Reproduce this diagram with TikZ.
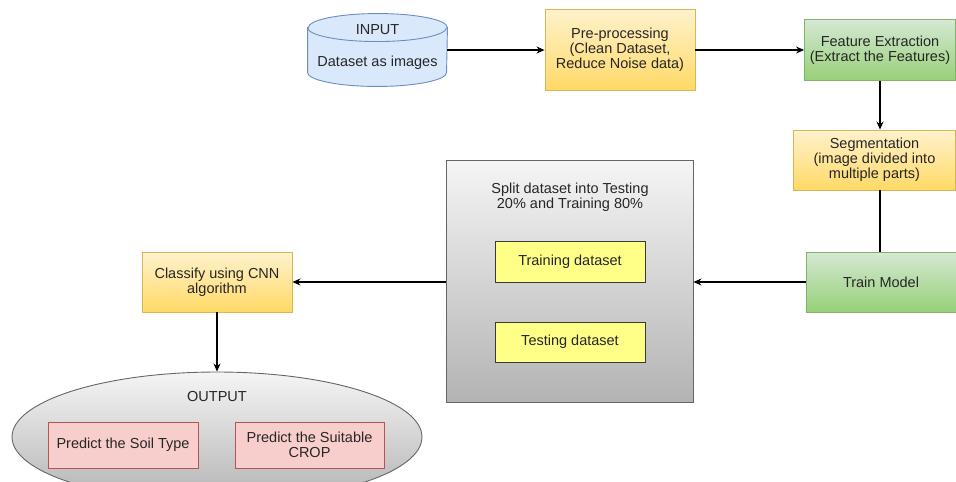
\documentclass[tikz,border=0pt]{standalone}
\usepackage{fontspec}
\setmainfont{Liberation Sans}
\usepackage{tikz}
\usetikzlibrary{arrows.meta,calc,positioning,shapes.geometric}

\definecolor{orangefill}{HTML}{FFF2CC}
\definecolor{orangegrad}{HTML}{FFD966}
\definecolor{orangeline}{HTML}{D6B656}
\definecolor{greenfill}{HTML}{D5E8D4}
\definecolor{greengrad}{HTML}{97D077}
\definecolor{greenline}{HTML}{82B366}
\definecolor{grayfill}{HTML}{F5F5F5}
\definecolor{graygrad}{HTML}{B3B3B3}
\definecolor{grayline}{HTML}{666666}
\definecolor{yellowfill}{HTML}{FFFF88}
\definecolor{yellowline}{HTML}{36393D}
\definecolor{pinkfill}{HTML}{F8CECC}
\definecolor{pinkline}{HTML}{B85450}
\definecolor{bluefill}{HTML}{DAE8FC}
\definecolor{blueline}{HTML}{6C8EBF}
\definecolor{txt}{HTML}{262626}

\begin{document}
\begin{tikzpicture}[x=1pt,y=1pt,
    every node/.style={font=\fontsize{14.5}{15}\selectfont,text=txt,align=center},
    box/.style={rectangle,inner sep=0pt,line width=0.9pt},
    orangebox/.style={box,draw=orangeline,top color=orangefill,bottom color=orangegrad},
    greenbox/.style={box,draw=greenline,top color=greenfill,bottom color=greengrad},
    graybox/.style={box,draw=grayline,top color=grayfill,bottom color=graygrad},
    yellowbox/.style={box,draw=yellowline,fill=yellowfill},
    pinkbox/.style={box,draw=pinkline,fill=pinkfill},
    flow/.style={line width=1.2pt,-{Stealth[length=8pt,width=7pt]}},
    plain/.style={line width=1.2pt}]

  \useasboundingbox (0,0) rectangle (956,-482);
  \clip (0,0) rectangle (956,-482);
%
  % top row
  \node[box,minimum width=139,minimum height=72] (input) at (377.5,-50) {};
  \draw[line width=0.9pt,draw=blueline,fill=bluefill]
    ($(input.north west)+(0,-14)$) -- ($(input.south west)+(0,14)$)
    arc[start angle=180,end angle=360,x radius=69.5,y radius=14]
    -- ($(input.north east)+(0,-14)$)
    arc[start angle=0,end angle=180,x radius=69.5,y radius=14] -- cycle;
  \draw[line width=0.9pt,draw=blueline] ($(input.north west)+(0,-14)$)
    arc[start angle=180,end angle=360,x radius=69.5,y radius=14];
  \node (inputtitle) at (377.5,-30) {INPUT};
  \node (inputtext) at (377.5,-63) {Dataset as images};
%
  \node[orangebox,minimum width=150,minimum height=81] (prep) at (620,-50)
    {Pre-processing\\(Clean Dataset,\\Reduce Noise data)};
  \node[greenbox,minimum width=151,minimum height=61] (feat) at (880,-50)
    {Feature Extraction\\(Extract the Features)};
%
  % right column
  \node[orangebox,minimum width=162,minimum height=60] (seg) at (874.5,-160)
    {Segmentation\\(image divided into\\multiple parts)};
  \node[greenbox,minimum width=150,minimum height=60] (train) at (881,-282)
    {Train Model};
%
  % split block
  \node[graybox,minimum width=247,minimum height=242] (split) at (569.5,-281) {};
  \node (splittext) at (570,-197) {Split dataset into Testing\\20\% and Training 80\%};
  \node[yellowbox,minimum width=150,minimum height=41] (training) at (570,-261.5)
    {Training dataset};
  \node[yellowbox,minimum width=150,minimum height=40] (testing) at (570,-342)
    {Testing dataset};
%
  % classification and output
  \node[orangebox,minimum width=150,minimum height=60] (classify) at (217,-282)
    {Classify using CNN\\algorithm};
  \node[graybox,ellipse,minimum width=410,minimum height=130] (output) at (217,-437) {};
  \node (outputtitle) at (217,-397) {OUTPUT};
  \node[pinkbox,minimum width=150,minimum height=46] (soil) at (123,-445)
    {Predict the Soil Type};
  \node[pinkbox,minimum width=149,minimum height=46] (crop) at (309.5,-445)
    {Predict the Suitable\\CROP};
%
  \draw[flow] (input.east) -- (prep.west);
  \draw[flow] (prep.east) -- (feat.west);
  \draw[flow] (feat.south) -- (feat.south |- seg.north);
  \draw[plain] (seg.south -| feat.south) -- (train.north -| feat.south);
  \draw[flow] (train.west) -- (split.east |- train.west);
  \draw[flow] (split.west |- classify.east) -- (classify.east);
  \draw[flow] (classify.south) -- (output.north);

\end{tikzpicture}
\end{document}
